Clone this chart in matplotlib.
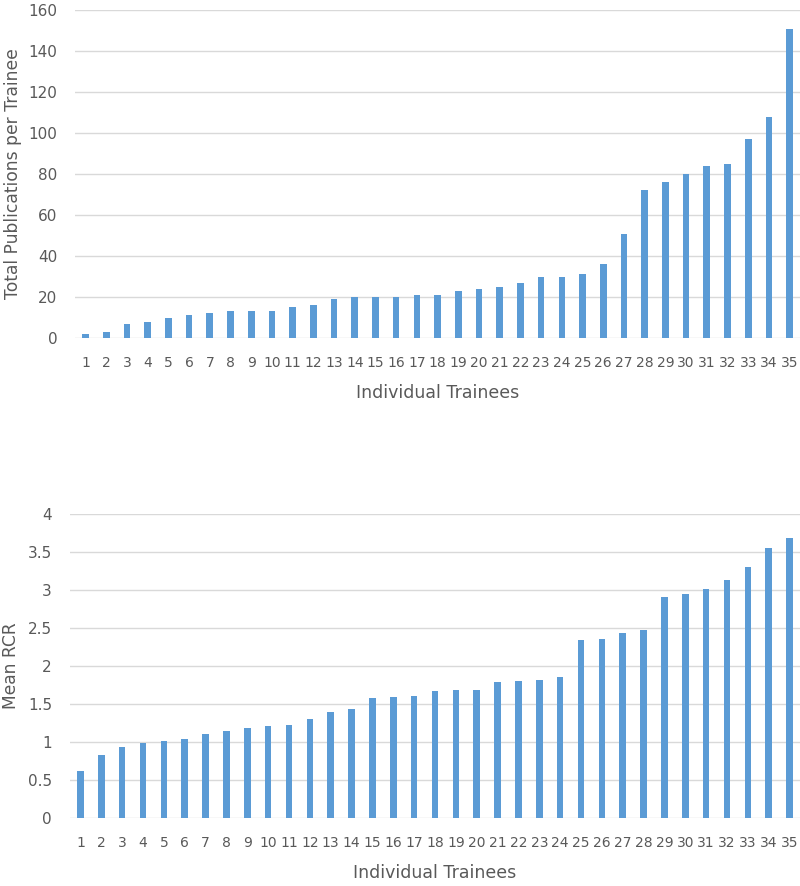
import matplotlib
matplotlib.use("Agg")
import matplotlib.pyplot as plt
import numpy as np

trainees = list(range(1, 36))
publications = [2, 3, 7, 8, 10, 11, 12, 13, 13, 13, 15, 16, 19, 20, 20, 20, 21, 21,
                23, 24, 25, 27, 30, 30, 31, 36, 51, 72, 76, 80, 84, 85, 97, 108, 151]
mean_rcr = [0.62, 0.83, 0.93, 0.99, 1.02, 1.04, 1.10, 1.14, 1.19, 1.21, 1.23, 1.30,
            1.39, 1.43, 1.58, 1.59, 1.61, 1.67, 1.68, 1.68, 1.79, 1.80, 1.82, 1.86,
            2.34, 2.36, 2.44, 2.47, 2.91, 2.95, 3.02, 3.13, 3.31, 3.55, 3.68]

bar_color = "#5B9BD5"
text_color = "#595959"
grid_color = "#D9D9D9"

fig = plt.figure(figsize=(8, 8.86), dpi=100)
ax1 = fig.add_axes([0.094, 0.6185, 0.906, 0.370])
ax2 = fig.add_axes([0.0875, 0.0767, 0.9125, 0.343])


def style(ax, values, yticks, ylabel, yfmt, label_x):
    ax.bar(trainees, values, width=0.32, color=bar_color, zorder=3)
    ax.set_xlim(0.5, 35.5)
    ax.set_ylim(yticks[0], yticks[-1])
    ax.set_yticks(yticks)
    ax.set_yticklabels([yfmt(v) for v in yticks], color=text_color, fontsize=11)
    ax.set_xticks(trainees)
    ax.set_xticklabels([str(t) for t in trainees], color=text_color, fontsize=10)
    ax.grid(axis="y", color=grid_color, linewidth=1, zorder=0)
    for s in ax.spines.values():
        s.set_visible(False)
    ax.tick_params(axis="y", length=0, pad=13)
    ax.tick_params(axis="x", length=0, pad=13)
    ax.set_ylabel(ylabel, color=text_color, fontsize=12.3)
    ax.yaxis.set_label_coords(label_x, 0.5)
    ax.set_xlabel("Individual Trainees", color=text_color, fontsize=12.5,
                  labelpad=10)


style(ax1, publications, list(range(0, 161, 20)),
      "Total Publications per Trainee", lambda v: str(v), -0.0735)
style(ax2, mean_rcr, [0, 0.5, 1, 1.5, 2, 2.5, 3, 3.5, 4],
      "Mean RCR", lambda v: ("%g" % v), -0.0685)

fig.savefig("out.png", dpi=100)
